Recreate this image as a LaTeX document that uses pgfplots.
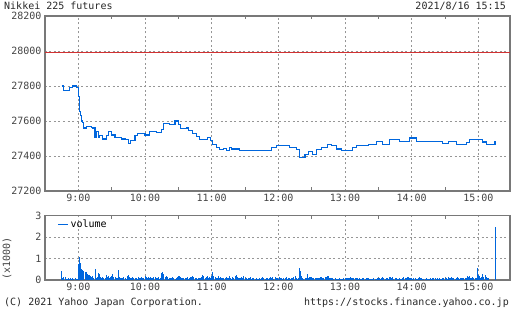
\documentclass[border=0pt]{standalone}
\usepackage{pgfplots}
\pgfplotsset{compat=1.18}
\usepackage{pgfplotstable}
\usepackage{fontspec}
\setmainfont{DejaVu Sans Mono}
\setmonofont{DejaVu Sans Mono}
\definecolor{pline}{RGB}{0,102,221}
\definecolor{framec}{RGB}{120,120,120}
\definecolor{gridc}{RGB}{150,150,150}
\definecolor{txt}{RGB}{68,68,68}
\definecolor{dtxt}{RGB}{40,40,40}
\definecolor{refred}{RGB}{210,50,50}

\pgfplotstableread{
t p
525 27800
527 27773
532 27789
535 27800
538 27789
540 27740
541 27655
542 27630
543 27600
544 27590
545 27560
547 27570
552 27565
553 27560
555 27508
556 27540
558 27508
559 27515
562 27497
565 27515
567 27541
570 27520
573 27508
579 27497
582 27492
585 27474
587 27490
591 27515
593 27530
600 27520
604 27541
610 27536
615 27550
617 27584
622 27580
627 27600
630 27580
632 27555
637 27560
639 27545
643 27530
646 27510
649 27495
656 27505
659 27490
661 27465
664 27450
667 27435
671 27445
673 27430
676 27450
678 27440
685 27432
714 27450
718 27460
730 27447
736 27437
739 27392
744 27408
747 27427
751 27410
754 27437
759 27450
764 27465
768 27460
772 27440
777 27432
787 27450
790 27460
801 27465
808 27484
814 27465
820 27493
829 27484
838 27503
844 27484
868 27470
873 27484
880 27465
889 27475
892 27493
904 27480
907 27465
915 27484
}\price

\pgfplotstableread{
t v
525 0.44
526 0.10
527 0.12
528 0.12
529 0.05
530 0.06
531 0.08
532 0.04
533 0.09
534 0.05
535 0.07
536 0.06
537 0.08
538 0.05
539 0.06
540 0.75
541 1.08
542 0.78
543 0.53
544 0.45
545 0.40
546 0.38
547 0.35
548 0.30
549 0.25
550 0.22
551 0.17
552 0.15
553 0.17
554 0.10
555 0.53
556 0.09
557 0.12
558 0.33
559 0.28
560 0.12
561 0.10
562 0.12
563 0.08
564 0.10
565 0.25
566 0.12
567 0.17
568 0.09
569 0.12
570 0.17
571 0.28
572 0.12
573 0.12
574 0.08
575 0.10
576 0.48
577 0.14
578 0.09
579 0.08
580 0.09
581 0.12
582 0.10
583 0.06
584 0.17
585 0.23
586 0.12
587 0.10
588 0.11
589 0.12
590 0.08
591 0.11
592 0.10
593 0.06
594 0.12
595 0.10
596 0.08
597 0.12
598 0.07
599 0.10
600 0.17
601 0.12
602 0.10
603 0.12
604 0.09
605 0.12
606 0.10
607 0.07
608 0.12
609 0.12
610 0.10
611 0.08
612 0.12
613 0.05
614 0.10
615 0.33
616 0.36
617 0.30
618 0.12
619 0.17
620 0.12
621 0.06
622 0.08
623 0.10
624 0.08
625 0.12
626 0.09
627 0.06
628 0.10
629 0.12
630 0.20
631 0.20
632 0.12
633 0.10
634 0.08
635 0.08
636 0.10
637 0.08
638 0.12
639 0.06
640 0.10
641 0.12
642 0.15
643 0.20
644 0.15
645 0.10
646 0.08
647 0.06
648 0.08
649 0.10
650 0.08
651 0.12
652 0.22
653 0.20
654 0.10
655 0.12
656 0.17
657 0.08
658 0.12
659 0.10
660 0.17
661 0.39
662 0.20
663 0.12
664 0.11
665 0.08
666 0.17
667 0.10
668 0.12
669 0.08
670 0.08
671 0.10
672 0.08
673 0.12
674 0.11
675 0.08
676 0.17
677 0.10
678 0.06
679 0.12
680 0.10
681 0.20
682 0.22
683 0.12
684 0.11
685 0.08
686 0.11
687 0.12
688 0.10
689 0.17
690 0.08
691 0.10
692 0.06
693 0.11
694 0.08
695 0.12
696 0.06
697 0.08
698 0.10
699 0.06
700 0.08
701 0.06
702 0.05
703 0.11
704 0.06
705 0.08
706 0.12
707 0.10
708 0.06
709 0.08
710 0.10
711 0.05
712 0.08
713 0.12
714 0.11
715 0.12
716 0.06
717 0.12
718 0.10
719 0.08
720 0.06
721 0.12
722 0.10
723 0.08
724 0.06
725 0.10
726 0.11
727 0.12
728 0.06
729 0.10
730 0.08
731 0.06
732 0.10
733 0.08
734 0.12
735 0.17
736 0.10
737 0.06
738 0.08
739 0.58
740 0.44
741 0.17
742 0.08
743 0.06
744 0.08
745 0.10
746 0.30
747 0.09
748 0.12
749 0.16
750 0.16
751 0.10
752 0.08
753 0.08
754 0.08
755 0.08
756 0.10
757 0.08
758 0.12
759 0.14
760 0.09
761 0.10
762 0.16
763 0.12
764 0.20
765 0.20
766 0.11
767 0.11
768 0.10
769 0.11
770 0.06
771 0.08
772 0.06
773 0.05
774 0.06
775 0.08
776 0.06
777 0.05
778 0.06
779 0.10
780 0.09
781 0.09
782 0.10
783 0.09
784 0.09
785 0.12
786 0.09
787 0.10
788 0.11
789 0.09
790 0.11
791 0.08
792 0.06
793 0.09
794 0.06
795 0.05
796 0.09
797 0.08
798 0.06
799 0.10
800 0.08
801 0.08
802 0.06
803 0.05
804 0.06
805 0.06
806 0.09
807 0.05
808 0.06
809 0.11
810 0.11
811 0.11
812 0.06
813 0.10
814 0.12
815 0.09
816 0.06
817 0.10
818 0.08
819 0.06
820 0.12
821 0.12
822 0.10
823 0.12
824 0.06
825 0.09
826 0.09
827 0.05
828 0.06
829 0.08
830 0.06
831 0.06
832 0.08
833 0.12
834 0.11
835 0.10
836 0.12
837 0.12
838 0.09
839 0.08
840 0.09
841 0.06
842 0.10
843 0.09
844 0.05
845 0.06
846 0.09
847 0.12
848 0.08
849 0.10
850 0.06
851 0.06
852 0.06
853 0.08
854 0.06
855 0.06
856 0.06
857 0.08
858 0.06
859 0.10
860 0.11
861 0.08
862 0.06
863 0.09
864 0.06
865 0.08
866 0.06
867 0.06
868 0.08
869 0.10
870 0.10
871 0.09
872 0.06
873 0.12
874 0.09
875 0.10
876 0.12
877 0.09
878 0.08
879 0.06
880 0.10
881 0.12
882 0.10
883 0.06
884 0.09
885 0.10
886 0.10
887 0.11
888 0.09
889 0.10
890 0.17
891 0.12
892 0.20
893 0.10
894 0.09
895 0.12
896 0.11
897 0.09
898 0.10
899 0.58
900 0.25
901 0.20
902 0.10
903 0.12
904 0.30
905 0.14
906 0.25
907 0.12
908 0.11
909 0.11
915 2.47
}\vol

\pgfplotsset{
  common/.style={
    scale only axis, width=465pt,
    xmin=510, xmax=928.5,
    xtick={540,600,660,720,780,840,900},
    xticklabels={9:00,10:00,11:00,12:00,13:00,14:00,15:00},
    minor xtick={570,630,690,750,810,870},
    grid=major,
    major grid style={gridc, dash pattern=on 2pt off 2.5pt, line width=0.8pt},
    axis line style={framec, line width=1.1pt},
    major tick length=0pt, minor tick length=3.5pt,
    minor tick style={framec, line width=1pt},
    tick align=inside,
    scaled y ticks=false,
    ticklabel style={font=\fontsize{10}{12}\selectfont, text=txt},
    /pgf/number format/assume math mode=true,
    /pgf/number format/1000 sep={},
  }
}

\begin{document}
\begin{tikzpicture}
\useasboundingbox (0,0) rectangle (512pt,-310pt);
\node[anchor=base west, text=dtxt, font=\fontsize{10}{12}\selectfont, inner sep=0pt] at (4pt,-9.5pt) {Nikkei 225 futures};
\node[anchor=base east, text=dtxt, font=\fontsize{10}{12}\selectfont, inner sep=0pt] at (506pt,-9.5pt) {2021/8/16 15:15};
\node[anchor=base west, text=dtxt, font=\fontsize{10}{12}\selectfont, inner sep=0pt] at (4pt,-305.5pt) {(C) 2021 Yahoo Japan Corporation.};
\node[anchor=base east, text=dtxt, font=\fontsize{10}{12}\selectfont, inner sep=0pt] at (509pt,-305.5pt) {https://stocks.finance.yahoo.co.jp};

\begin{axis}[common, at={(45pt,-191pt)}, anchor=south west, height=175pt,
  ymin=27200, ymax=28200, ytick={27200,27400,27600,27800,28000,28200}]
\addplot[refred, line width=1pt] coordinates {(510,27990) (928.5,27990)};
\addplot[pline, line width=1.1pt, const plot] table[x=t, y=p] {\price};
\end{axis}

\begin{axis}[common, at={(45pt,-280pt)}, anchor=south west, height=64.5pt,
  ymin=0, ymax=3, ytick={0,1,2,3},
  ylabel={(x1000)},
  every axis y label/.style={at={(axis description cs:-0.082,0.34)}, rotate=90, anchor=center, font=\fontsize{10}{12}\selectfont, text=txt},
  legend style={draw=none, fill=none, at={(axis description cs:0.02,0.99)}, anchor=north west, font=\fontsize{10}{12}\selectfont},
  legend cell align=left]
\addplot[ycomb, pline, line width=1pt, legend image code/.code={\path (0pt,0pt) -- (10pt,0pt); \draw[pline, line width=1pt] (3pt,0pt) -- (9pt,0pt);}] table[x=t, y=v] {\vol};
\addlegendentry{volume}
\end{axis}
\end{tikzpicture}
\end{document}
